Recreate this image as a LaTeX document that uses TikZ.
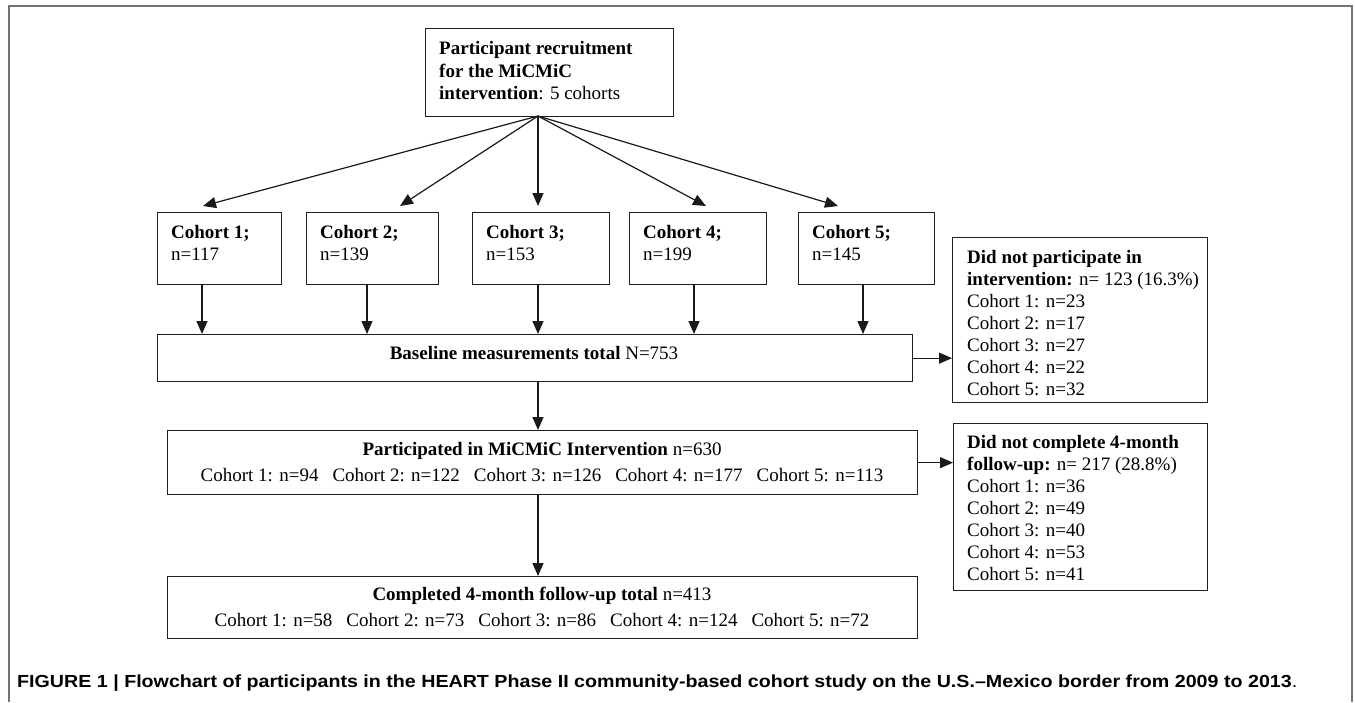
\documentclass[tikz,border=0pt]{standalone}
\usepackage{fontspec}
\setmainfont{Liberation Serif}
\newfontfamily\capfont{Liberation Sans}
\usetikzlibrary{arrows.meta}
\newcommand\mainfs{\fontsize{19}{22}\selectfont}
\begin{document}
\begin{tikzpicture}[x=1pt,y=-1pt,
  box/.style={draw=black!88, line width=1.3pt, inner sep=0pt, anchor=north west},
  arr/.style={draw=black!90, line width=1.2pt, -{Triangle[length=13pt,width=11pt]}},
  txt/.style={anchor=base west, inner sep=0pt, font=\mainfs},
  ctxt/.style={anchor=base, inner sep=0pt, font=\mainfs},
  frame/.style={draw=black!55, line width=2.2pt}]
\useasboundingbox (0,0) rectangle (1355,702);
\fill[white] (0,0) rectangle (1355,702);
% outer frame
\draw[frame] (9,702) -- (9,6) -- (1352,6) -- (1352,702);

% top box
\node[box, minimum width=248pt, minimum height=88pt] (top) at (425,28) {};
\node[txt] (tl1) at (439,54) {\textbf{Participant recruitment}};
\node[txt] (tl2) at (439,77) {\textbf{for the MiCMiC}};
\node[txt] (tl3) at (439,99) {\textbf{intervention}: 5 cohorts};

% cohort boxes
\node[box, minimum width=124pt, minimum height=72pt] (c1) at (157,212) {};
\node[box, minimum width=132pt, minimum height=72pt] (c2) at (306,212) {};
\node[box, minimum width=137pt, minimum height=72pt] (c3) at (472,212) {};
\node[box, minimum width=137pt, minimum height=72pt] (c4) at (629,212) {};
\node[box, minimum width=136pt, minimum height=72pt] (c5) at (798,212) {};
\node[txt] (c1a) at (171,238) {\textbf{Cohort 1;}};
\node[txt] (c1b) at (171,260) {n=117};
\node[txt] (c2a) at (320,238) {\textbf{Cohort 2;}};
\node[txt] (c2b) at (320,260) {n=139};
\node[txt] (c3a) at (486,238) {\textbf{Cohort 3;}};
\node[txt] (c3b) at (486,260) {n=153};
\node[txt] (c4a) at (643,238) {\textbf{Cohort 4;}};
\node[txt] (c4b) at (643,260) {n=199};
\node[txt] (c5a) at (812,238) {\textbf{Cohort 5;}};
\node[txt] (c5b) at (812,260) {n=145};

% arrows from recruitment
\coordinate (apex) at (538,116);
\coordinate (t1) at (203,206);
\coordinate (t2) at (400,206);
\coordinate (t3) at (538,206);
\coordinate (t4) at (706,206);
\coordinate (t5) at (838,206);
\foreach \t in {t1,t2,t3,t4,t5} \draw[arr] (apex) -- (\t);

% baseline box
\node[box, minimum width=755pt, minimum height=47pt] (base) at (157,334) {};
\node[ctxt] (basel) at (534,359) {\textbf{Baseline measurements total} N=753};

\coordinate (x1) at (202,0);
\coordinate (x2) at (367,0);
\coordinate (x3) at (538,0);
\coordinate (x4) at (694,0);
\coordinate (x5) at (863,0);
\draw[arr] (c1.south -| x1) -- (base.north -| x1);
\draw[arr] (c2.south -| x2) -- (base.north -| x2);
\draw[arr] (c3.south -| x3) -- (base.north -| x3);
\draw[arr] (c4.south -| x4) -- (base.north -| x4);
\draw[arr] (c5.south -| x5) -- (base.north -| x5);

% did not participate
\node[box, minimum width=255pt, minimum height=165pt] (dnp) at (952,237) {};
\node[txt] (p1) at (967,263) {\textbf{Did not participate in}};
\node[txt] (p2) at (967,285) {\textbf{intervention:} n= 123 (16.3\%)};
\node[txt] (p3) at (967,307) {Cohort 1: n=23};
\node[txt] (p4) at (967,329) {Cohort 2: n=17};
\node[txt] (p5) at (967,351) {Cohort 3: n=27};
\node[txt] (p6) at (967,373) {Cohort 4: n=22};
\node[txt] (p7) at (967,395) {Cohort 5: n=32};
\draw[arr] (base.east) -- (base.east -| dnp.west);

% participated
\node[box, minimum width=750pt, minimum height=64pt] (int) at (167,430) {};
\node[ctxt] (i1) at (542,455) {\textbf{Participated in MiCMiC Intervention} n=630};
\node[ctxt] (i2) at (542,481) {Cohort 1: n=94\hspace{14pt}Cohort 2: n=122\hspace{14pt}Cohort 3: n=126\hspace{14pt}Cohort 4: n=177\hspace{14pt}Cohort 5: n=113};
\draw[arr] (base.south -| x3) -- (int.north -| x3);

% did not complete
\node[box, minimum width=254pt, minimum height=167pt] (dnc) at (953,423) {};
\node[txt] (q1) at (967,448) {\textbf{Did not complete 4-month}};
\node[txt] (q2) at (967,470) {\textbf{follow-up:} n= 217 (28.8\%)};
\node[txt] (q3) at (967,492) {Cohort 1: n=36};
\node[txt] (q4) at (967,514) {Cohort 2: n=49};
\node[txt] (q5) at (967,536) {Cohort 3: n=40};
\node[txt] (q6) at (967,558) {Cohort 4: n=53};
\node[txt] (q7) at (967,580) {Cohort 5: n=41};
\draw[arr] (int.east) -- (int.east -| dnc.west);

% completed
\node[box, minimum width=750pt, minimum height=62pt] (comp) at (167,576) {};
\node[ctxt] (k1) at (542,600) {\textbf{Completed 4-month follow-up total} n=413};
\node[ctxt] (k2) at (542,626) {Cohort 1: n=58\hspace{14pt}Cohort 2: n=73\hspace{14pt}Cohort 3: n=86\hspace{14pt}Cohort 4: n=124\hspace{14pt}Cohort 5: n=72};
\draw[arr] (int.south -| x3) -- (comp.north -| x3);

% caption
\node[anchor=base west, inner sep=0pt, font=\capfont\fontsize{17.5}{20}\selectfont] (cap) at (17,687)
  {\resizebox{1280pt}{\height}{\textbf{FIGURE 1 | Flowchart of participants in the HEART Phase II community-based cohort study on the U.S.–Mexico border from 2009 to 2013}.}};
\end{tikzpicture}
\end{document}
